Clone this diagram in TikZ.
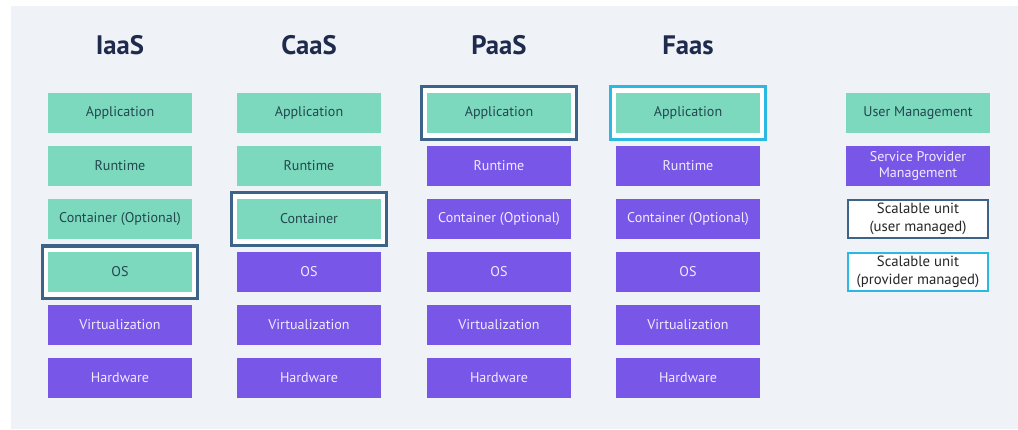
\documentclass[tikz,border=0pt]{standalone}
\usepackage{fontspec}
\setmainfont{PT Sans}
\usetikzlibrary{calc}

\definecolor{panelgray}{HTML}{EFF2F6}
\definecolor{usergreen}{HTML}{7DD9BD}
\definecolor{provpurple}{HTML}{7856E8}
\definecolor{userframe}{HTML}{3D6488}
\definecolor{provframe}{HTML}{2BB8E3}
\definecolor{titleblue}{HTML}{1F2B4D}
\definecolor{greentext}{HTML}{22474F}
\definecolor{purpletext}{HTML}{F1EBFF}

\tikzset{
  layerbox/.style={minimum width=3.575cm, minimum height=1cm, inner sep=0pt,
    font=\fontsize{10}{12}\selectfont, align=center},
  userbox/.style={layerbox, fill=usergreen, text=greentext},
  provbox/.style={layerbox, fill=provpurple, text=purpletext},
  unitframe/.style={minimum width=3.875cm, minimum height=1.3cm, inner sep=0pt,
    fill=white, draw=#1, line width=0.075cm},
  legendframe/.style={layerbox, fill=white, draw=#1, line width=0.07cm,
    minimum width=3.5cm, minimum height=0.95cm, text=black!85,
    font=\fontsize{10.5}{13}\selectfont},
  coltitle/.style={font=\fontsize{19}{21}\bfseries\selectfont, text=titleblue}
}

\begin{document}
\begin{tikzpicture}[x=0.025cm,y=-0.025cm]
        \useasboundingbox (0,0) rectangle (1018,429);
        \fill[panelgray] (11,6) rectangle (1018,429);
        % IaaS
        \node[coltitle] (tiaas) at (120,45) {IaaS};
        \node[unitframe=userframe] (fiaas) at (120,272) {};
        \node[userbox] (iapp) at (120,113) {Application};
        \node[userbox] (irun) at (120,166) {Runtime};
        \node[userbox] (icon) at (120,219) {Container (Optional)};
        \node[userbox] (ios) at (120,272) {OS};
        \node[provbox] (ivirt) at (120,325) {Virtualization};
        \node[provbox] (ihw) at (120,378) {Hardware};
        % CaaS
        \node[coltitle] (tcaas) at (309,45) {CaaS};
        \node[unitframe=userframe] (fcaas) at (309,219) {};
        \node[userbox] (capp) at (309,113) {Application};
        \node[userbox] (crun) at (309,166) {Runtime};
        \node[userbox] (ccon) at (309,219) {Container};
        \node[provbox] (cos) at (309,272) {OS};
        \node[provbox] (cvirt) at (309,325) {Virtualization};
        \node[provbox] (chw) at (309,378) {Hardware};
        % PaaS
        \node[coltitle] (tpaas) at (499,45) {PaaS};
        \node[unitframe=userframe] (fpaas) at (499,113) {};
        \node[userbox] (papp) at (499,113) {Application};
        \node[provbox] (prun) at (499,166) {Runtime};
        \node[provbox] (pcon) at (499,219) {Container (Optional)};
        \node[provbox] (pos) at (499,272) {OS};
        \node[provbox] (pvirt) at (499,325) {Virtualization};
        \node[provbox] (phw) at (499,378) {Hardware};
        % Faas
        \node[coltitle] (tfaas) at (688,45) {Faas};
        \node[unitframe=provframe] (ffaas) at (688,113) {};
        \node[userbox] (fapp) at (688,113) {Application};
        \node[provbox] (frun) at (688,166) {Runtime};
        \node[provbox] (fcon) at (688,219) {Container (Optional)};
        \node[provbox] (fos) at (688,272) {OS};
        \node[provbox] (fvirt) at (688,325) {Virtualization};
        \node[provbox] (fhw) at (688,378) {Hardware};
        % legend
        \node[userbox, minimum width=3.6cm] (luser) at (918,113) {User Management};
        \node[provbox, minimum width=3.6cm] (lprov) at (918,166) {Service Provider\\Management};
        \node[legendframe=userframe] (lunitu) at (918,219) {Scalable unit\\(user managed)};
        \node[legendframe=provframe] (lunitp) at (918,272) {Scalable unit\\(provider managed)};
    \end{tikzpicture}
\end{document}
